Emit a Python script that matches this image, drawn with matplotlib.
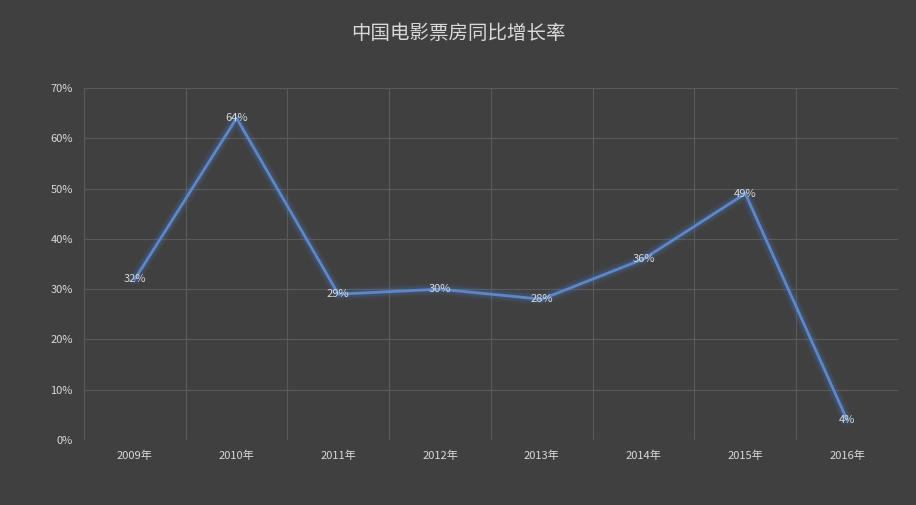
import matplotlib
matplotlib.use('Agg')
import matplotlib.pyplot as plt
from matplotlib.ticker import FixedLocator, PercentFormatter

plt.rcParams['font.family'] = ['Noto Sans CJK SC', 'DejaVu Sans']

# 数据
years = ['2009年', '2010年', '2011年', '2012年', '2013年', '2014年', '2015年', '2016年']
growth = [32, 64, 29, 30, 28, 36, 49, 4]
labels = ['32%', '64%', '29%', '30%', '28%', '36%', '49%', '4%']

bg = '#404040'
grid_c = '#5a5a5a'
text_c = '#d9d9d9'
line_c = '#5f86c6'

fig = plt.figure(figsize=(9.16, 5.05), dpi=100, facecolor=bg)
ax = fig.add_axes([0.0917, 0.1287, 0.8886, 0.697])
ax.set_facecolor(bg)

x = list(range(len(years)))

# 发光效果
for w, a in [(9, 0.05), (7, 0.08), (5, 0.12)]:
    ax.plot(x, growth, color='#4a86e8', lw=w, alpha=a, solid_capstyle='round', solid_joinstyle='round')
ax.plot(x, growth, color=line_c, lw=2.0, solid_joinstyle='round', zorder=3)

for xi, yi, lab in zip(x, growth, labels):
    ax.text(xi, yi, lab, ha='center', va='center', color=text_c, fontsize=8, zorder=4)

ax.set_xlim(-0.5, len(years) - 0.5)
ax.set_ylim(0, 70)
ax.yaxis.set_major_locator(FixedLocator(range(0, 71, 10)))
ax.yaxis.set_major_formatter(PercentFormatter(decimals=0))
ax.set_xticks(x)
ax.set_xticklabels(years)
ax.xaxis.set_minor_locator(FixedLocator([i - 0.5 for i in range(len(years) + 1)]))

ax.grid(axis='y', which='major', color=grid_c, lw=0.8)
ax.grid(axis='x', which='minor', color=grid_c, lw=0.8)
ax.set_axisbelow(True)

ax.tick_params(axis='both', which='both', length=0, colors=text_c, labelsize=8)
ax.tick_params(axis='y', pad=8)
ax.tick_params(axis='x', pad=8)
for s in ax.spines.values():
    s.set_visible(False)

fig.suptitle('中国电影票房同比增长率', y=0.955, color=text_c, fontsize=14)

fig.savefig('out.png', dpi=100, facecolor=bg)
